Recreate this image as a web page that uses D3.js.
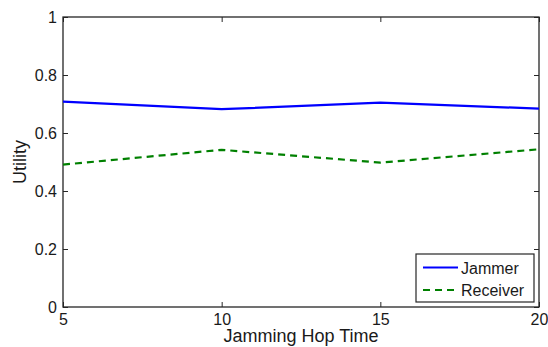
<!DOCTYPE html>
<html>
<head>
<meta charset="utf-8">
<script src="https://cdn.jsdelivr.net/npm/d3@7"></script>
<style>
  body { margin: 0; background: #fff; }
  svg { display: block; font-family: "Liberation Sans", Arial, sans-serif; }
</style>
</head>
<body>
<div id="chart"></div>
<script>
// data
var hopTimes = [5, 10, 15, 20];
var jammerUtility = [0.708, 0.682, 0.705, 0.684];
var receiverUtility = [0.491, 0.542, 0.498, 0.544];
var xTicks = [5, 10, 15, 20];
var yTicks = [0, 0.2, 0.4, 0.6, 0.8, 1];
var seriesNames = ["Jammer", "Receiver"];

var svgWidth = 548;
var svgHeight = 347;

var margin = { top: 17, right: 9, bottom: 40, left: 63 };
var width = svgWidth - margin.left - margin.right;
var height = svgHeight - margin.top - margin.bottom;

var svg = d3.select("#chart")
  .append("svg")
  .attr("width", svgWidth)
  .attr("height", svgHeight);

var chartGroup = svg.append("g")
  .attr("transform", `translate(${margin.left}, ${margin.top})`);

var xScale = d3.scaleLinear().domain([5, 20]).range([0, width]);
var yScale = d3.scaleLinear().domain([0, 1]).range([height, 0]);

var axisColor = "#262626";

// axes, ticks pointing inward like matlab
var bottomAxis = d3.axisBottom(xScale).tickValues(xTicks).tickSize(-5).tickPadding(7).tickFormat(d3.format("d"));
var topAxis = d3.axisTop(xScale).tickValues(xTicks).tickSize(-5).tickFormat("");
var leftAxis = d3.axisLeft(yScale).tickValues(yTicks).tickSize(-5).tickPadding(6).tickFormat(d => d === 0 || d === 1 ? d : d.toFixed(1));
var rightAxis = d3.axisRight(yScale).tickValues(yTicks).tickSize(-5).tickFormat("");

var xAxisG = chartGroup.append("g").attr("transform", `translate(0,${height})`).call(bottomAxis);
var xTopG = chartGroup.append("g").call(topAxis);
var yAxisG = chartGroup.append("g").call(leftAxis);
var yRightG = chartGroup.append("g").attr("transform", `translate(${width},0)`).call(rightAxis);
[xAxisG, xTopG, yAxisG, yRightG].forEach(function(g) {
  g.select(".domain").remove();
  g.selectAll(".tick line").attr("stroke", axisColor).attr("stroke-width", 1);
  g.selectAll(".tick text").attr("fill", "#1a1a1a").attr("font-size", "16px")
    .attr("font-family", "Liberation Sans, Arial, sans-serif");
});

// frame
chartGroup.append("rect")
  .attr("x", 0).attr("y", 0)
  .attr("width", width).attr("height", height)
  .attr("fill", "none")
  .attr("stroke", axisColor)
  .attr("stroke-width", 1.3);

// lines
var line = d3.line()
  .x((d, i) => xScale(hopTimes[i]))
  .y(d => yScale(d));

chartGroup.append("path")
  .datum(jammerUtility)
  .attr("d", line)
  .attr("fill", "none")
  .attr("stroke", "#0000ff")
  .attr("stroke-width", 2.2);

chartGroup.append("path")
  .datum(receiverUtility)
  .attr("d", line)
  .attr("fill", "none")
  .attr("stroke", "#008000")
  .attr("stroke-width", 2.2)
  .attr("stroke-dasharray", "7,5");

// axis labels
svg.append("text")
  .attr("x", margin.left + width / 2)
  .attr("y", 342)
  .attr("text-anchor", "middle")
  .attr("font-size", "18px")
  .attr("fill", "#1a1a1a")
  .text("Jamming Hop Time");

svg.append("text")
  .attr("transform", `translate(26, ${margin.top + height / 2}) rotate(-90)`)
  .attr("text-anchor", "middle")
  .attr("font-size", "18px")
  .attr("fill", "#1a1a1a")
  .text("Utility");

// legend
var legend = svg.append("g").attr("transform", "translate(416, 254)");
legend.append("rect")
  .attr("width", 118).attr("height", 48)
  .attr("fill", "#fff")
  .attr("stroke", axisColor)
  .attr("stroke-width", 1.2);

var legendStyles = [
  { color: "#0000ff", dash: null },
  { color: "#008000", dash: "7,5" }
];

seriesNames.forEach(function(name, i) {
  var yPos = 13.5 + i * 22.5;
  legend.append("line")
    .attr("x1", 7).attr("x2", 42)
    .attr("y1", yPos).attr("y2", yPos)
    .attr("stroke", legendStyles[i].color)
    .attr("stroke-width", 2.2)
    .attr("stroke-dasharray", legendStyles[i].dash);
  legend.append("text")
    .attr("x", 45)
    .attr("y", yPos + 6)
    .attr("font-size", "16px")
    .attr("fill", "#1a1a1a")
    .text(name);
});
</script>
</body>
</html>
